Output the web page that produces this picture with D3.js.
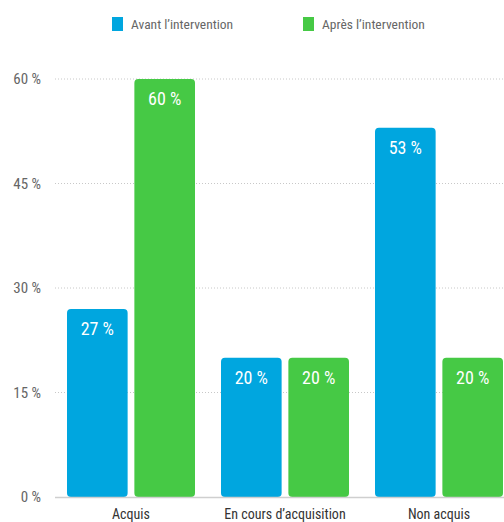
<!DOCTYPE html>
<html><head><meta charset="utf-8">
<script src="https://cdn.jsdelivr.net/npm/d3@7"></script>
<style>
html,body{margin:0;padding:0;background:#fff;overflow:hidden}
svg{display:block}
text{font-family:"Liberation Sans Narrow","Roboto Condensed","Liberation Sans",Arial,sans-serif}
</style></head>
<body>
<svg id="c" width="504" height="522"></svg>
<script>
const categories = ["Acquis", "En cours d’acquisition", "Non acquis"];
const seriesNames = ["Avant l’intervention", "Après l’intervention"];
const avant = [27, 20, 53];
const apres = [60, 20, 20];
const yTicks = [0, 15, 30, 45, 60];
const colors = ["#00a6df", "#46c945"];

const svg = d3.select("#c");
const W = 504, H = 522;

const y = d3.scaleLinear().domain([0, 60]).range([497, 79]);
const x0 = d3.scaleBand().domain(categories).range([54, 516]).paddingInner(26/154).paddingOuter(13/154);
const x1 = d3.scaleBand().domain(seriesNames).range([0, x0.bandwidth()]).paddingInner(0.1);

// grid
const grid = svg.append("g");
yTicks.forEach(t => {
  if (t === 0) return;
  grid.append("line").attr("x1", 55).attr("x2", W).attr("y1", y(t)).attr("y2", y(t))
    .attr("stroke", "#c8c8c8").attr("stroke-width", 1).attr("stroke-dasharray", "1,2");
});

// y axis labels
const yAxis = d3.axisLeft(y).tickValues(yTicks).tickFormat(d => d + " %").tickSize(0).tickPadding(0);
const ya = svg.append("g").attr("transform", "translate(41,0)").call(yAxis);
ya.select(".domain").remove();
ya.selectAll("text").attr("fill", "#666").style("font-size", "15px");

// bars
const data = categories.map((c, i) => ({cat: c, vals: [avant[i], apres[i]]}));
const groups = svg.append("g").selectAll("g").data(data).join("g")
  .attr("transform", d => `translate(${x0(d.cat)},0)`);
groups.selectAll("rect").data(d => d.vals.map((v, j) => ({v, s: seriesNames[j], j})))
  .join("rect")
  .attr("x", d => x1(d.s)).attr("width", x1.bandwidth())
  .attr("y", d => y(d.v)).attr("height", d => y(0) - y(d.v))
  .attr("rx", 4).attr("fill", d => colors[d.j]);
groups.selectAll("text.v").data(d => d.vals.map((v, j) => ({v, s: seriesNames[j], j})))
  .join("text").attr("class", "v")
  .attr("x", d => x1(d.s) + x1.bandwidth() / 2).attr("y", d => y(d.v) + 26)
  .attr("text-anchor", "middle").attr("fill", "#fff").style("font-size", "18px")
  .text(d => d.v + " %");

// baseline
svg.append("line").attr("x1", 55).attr("x2", W).attr("y1", y(0) + 0.5).attr("y2", y(0) + 0.5)
  .attr("stroke", "#cfcfcf").attr("stroke-width", 1.5);

// x axis labels
const xAxis = d3.axisBottom(x0).tickSize(0).tickPadding(0);
const xa = svg.append("g").attr("transform", `translate(0,${y(0) + 12})`).call(xAxis);
xa.select(".domain").remove();
xa.selectAll("text").attr("fill", "#333").style("font-size", "14px");

// legend
const legX = [112, 303];
seriesNames.forEach((s, i) => {
  svg.append("rect").attr("x", legX[i]).attr("y", 17).attr("width", 11).attr("height", 14).attr("fill", colors[i]);
  svg.append("text").attr("x", legX[i] + 19).attr("y", 29).attr("fill", "#666").style("font-size", "13.5px").text(s);
});
</script>
</body></html>
